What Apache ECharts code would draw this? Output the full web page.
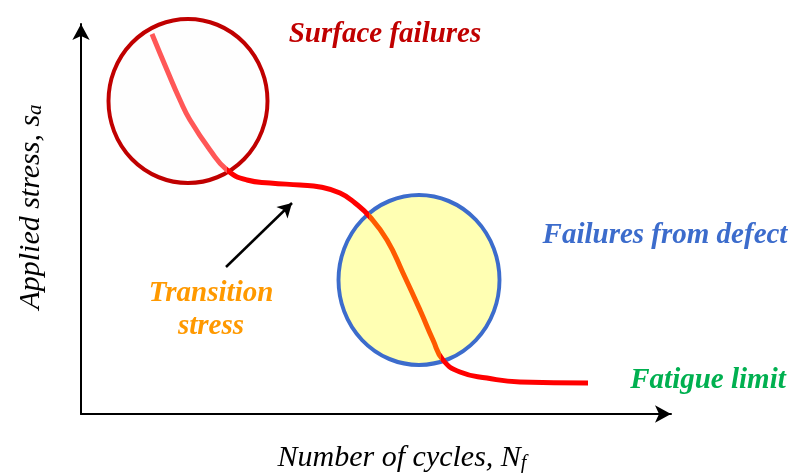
<!DOCTYPE html>
<html>
<head>
<meta charset="utf-8">
<script src="https://cdn.jsdelivr.net/npm/echarts@6/dist/echarts.min.js"></script>
<style>
  html, body { margin: 0; padding: 0; background: #fff; }
  #main { width: 790px; height: 473px; }
</style>
</head>
<body>
<div id="main"></div>
<script>
// schematic S-N curve, axis units are arbitrary (no ticks in the figure)
var curveX = [71, 86, 99, 109, 129, 146, 166, 189, 219, 239, 259, 274, 289, 306, 322, 339, 352, 362, 379, 406, 439, 507];
var curveY = [380, 344, 314, 294, 264, 244, 234, 231, 229, 227, 221, 211, 197, 174, 141, 104, 74, 54, 42, 36, 32, 31];
var surfaceCircle = [107, 313];
var defectCircle = [338, 134];
var arrowFrom = [145, 147];
var arrowTo = [211, 211];

var xMax = 590, yMax = 390;
var serif = '"Liberation Serif", "Times New Roman", serif';

var curveData = curveX.map(function (x, i) { return [x, curveY[i]]; });

var myChart = echarts.init(document.getElementById('main'));
var option = {
    animation: false,
    grid: { left: 81, right: 119, top: 24, bottom: 59, outerBoundsMode: 'none', containLabel: false },
    xAxis: {
        type: 'value',
        min: 0,
        max: xMax,
        name: 'Number of cycles, N{sub|f}',
        nameLocation: 'middle',
        nameGap: 28,
        nameTextStyle: {
            fontFamily: serif, fontStyle: 'italic', fontSize: 30, color: '#000',
            padding: [0, 0, 0, 52],
            rich: { sub: { fontFamily: serif, fontStyle: 'italic', fontSize: 20, color: '#000', padding: [12, 0, 0, 0] } }
        },
        axisLine: { lineStyle: { color: '#000', width: 2 }, symbol: ['none', 'arrow'], symbolSize: [13, 16] },
        axisTick: { show: false },
        axisLabel: { show: false },
        splitLine: { show: false }
    },
    yAxis: {
        type: 'value',
        min: 0,
        max: yMax,
        name: 'Applied stress, s{sub|a}',
        nameLocation: 'middle',
        nameGap: 35,
        nameRotate: 90,
        nameTextStyle: {
            fontFamily: serif, fontStyle: 'italic', fontSize: 30, color: '#000',
            padding: [0, 0, 0, 24],
            rich: { sub: { fontFamily: serif, fontStyle: 'italic', fontSize: 21, color: '#000', padding: [9, 0, 0, 0] } }
        },
        axisLine: { lineStyle: { color: '#000', width: 2 }, symbol: ['none', 'arrow'], symbolSize: [13, 16] },
        axisTick: { show: false },
        axisLabel: { show: false },
        splitLine: { show: false }
    },
    visualMap: {
        show: false,
        type: 'piecewise',
        seriesIndex: 2,
        dimension: 0,
        pieces: [
            { lt: 146, color: '#ff5757' },
            { gte: 146, lt: 288, color: '#ff0000' },
            { gte: 288, lt: 360, color: '#ff5a00' },
            { gte: 360, color: '#ff0000' }
        ]
    },
    series: [
        {
            type: 'scatter',
            symbol: 'circle',
            symbolSize: [159, 164],
            z: 1,
            silent: true,
            itemStyle: { color: '#fefefe', borderColor: '#c00000', borderWidth: 4, opacity: 1 },
            data: [surfaceCircle]
        },
        {
            type: 'scatter',
            symbol: 'circle',
            symbolSize: [161, 170],
            z: 1,
            silent: true,
            itemStyle: { color: '#ffffb3', borderColor: '#3c6ccc', borderWidth: 4, opacity: 1 },
            data: [defectCircle],
            markLine: {
                silent: true,
                symbol: ['none', 'arrow'],
                symbolSize: [12, 14],
                label: { show: false },
                lineStyle: { color: '#000', width: 2.5, type: 'solid' },
                data: [[{ coord: arrowFrom }, { coord: arrowTo }]]
            }
        },
        {
            type: 'line',
            smooth: 0.5,
            showSymbol: false,
            z: 3,
            lineStyle: { width: 5 },
            data: curveData
        }
    ],
    graphic: [
        {
            type: 'text', x: 385, y: 35,
            style: { text: 'Surface failures', font: 'italic bold 29px ' + serif, fill: '#c00000', align: 'center', verticalAlign: 'middle' }
        },
        {
            type: 'text', x: 665, y: 236,
            style: { text: 'Failures from defect', font: 'italic bold 29px ' + serif, fill: '#3c6ccc', align: 'center', verticalAlign: 'middle' }
        },
        {
            type: 'text', x: 708, y: 381,
            style: { text: 'Fatigue limit', font: 'italic bold 29px ' + serif, fill: '#00b050', align: 'center', verticalAlign: 'middle' }
        },
        {
            type: 'text', x: 211, y: 310,
            style: { text: 'Transition\nstress', font: 'italic bold 29px ' + serif, fill: '#ff9900', align: 'center', verticalAlign: 'middle', lineHeight: 33 }
        }
    ]
};
myChart.setOption(option);
</script>
</body>
</html>
